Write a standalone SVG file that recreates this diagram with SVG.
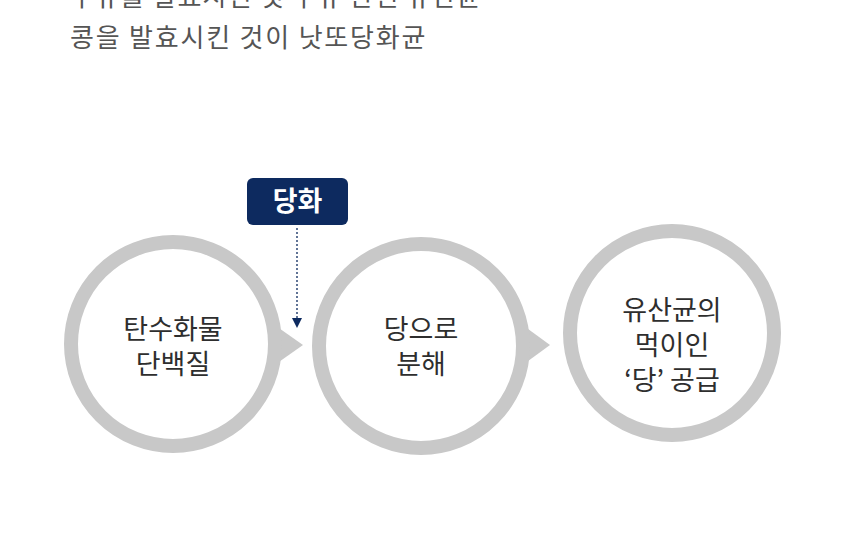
<svg xmlns="http://www.w3.org/2000/svg" width="860" height="553" viewBox="0 0 860 553">
<style>
.intro{font-family:"Noto Sans CJK KR","Noto Sans",sans-serif;font-size:26px;letter-spacing:1.8px;fill:#555555}
.ring{fill:#ffffff;stroke:#c8c8c8;stroke-width:14}
.ptr{fill:#c8c8c8}
.lbl{font-family:"Noto Sans CJK KR","Noto Sans",sans-serif;font-size:27px;font-weight:normal;fill:#2e2e2e;text-anchor:middle}
.tag{font-family:"Noto Sans CJK KR","Noto Sans",sans-serif;font-size:27px;font-weight:bold;fill:#ffffff;text-anchor:middle}
</style>
<defs>
<marker id="ah" viewBox="0 0 10 10" refX="10" refY="5" markerWidth="10" markerHeight="10" markerUnits="userSpaceOnUse" orient="auto">
<path d="M0,0 L10,5 L0,10 Z" fill="#0d2a5f"/>
</marker>
</defs>
<rect width="860" height="553" fill="#ffffff"/>
<g id="intro">
<text class="intro" x="70" y="6" style="letter-spacing:1.2px">우유를 발효시킨 것 우유 관련 유산균</text>
<text class="intro" x="70" y="47">콩을 발효시킨 것이 낫또당화균</text>
</g>
<g id="connectors">
<polygon class="ptr" points="276,326 303,345 276,364"/>
<polygon class="ptr" points="524,326 550,345 524,364"/>
<line x1="297" y1="228" x2="297" y2="328" stroke="#0d2a5f" stroke-width="1.3" stroke-dasharray="2,2" marker-end="url(#ah)"/>
</g>
<g id="node-carb">
<circle class="ring" cx="173" cy="344" r="102"/>
<text class="lbl" x="173" y="339">탄수화물</text>
<text class="lbl" x="173" y="374">단백질</text>
</g>
<g id="node-sugar">
<circle class="ring" cx="421" cy="346" r="102"/>
<text class="lbl" x="421" y="339">당으로</text>
<text class="lbl" x="421" y="374">분해</text>
</g>
<g id="node-supply">
<circle class="ring" cx="672" cy="333" r="102"/>
<text class="lbl" x="672" y="320">유산균의</text>
<text class="lbl" x="672" y="355">먹이인</text>
<text class="lbl" x="672" y="390">‘당’ 공급</text>
</g>
<g id="node-tag">
<rect x="247" y="178" width="101" height="47" rx="6" fill="#0d2a5f"/>
<text class="tag" x="297.5" y="211">당화</text>
</g>
</svg>
